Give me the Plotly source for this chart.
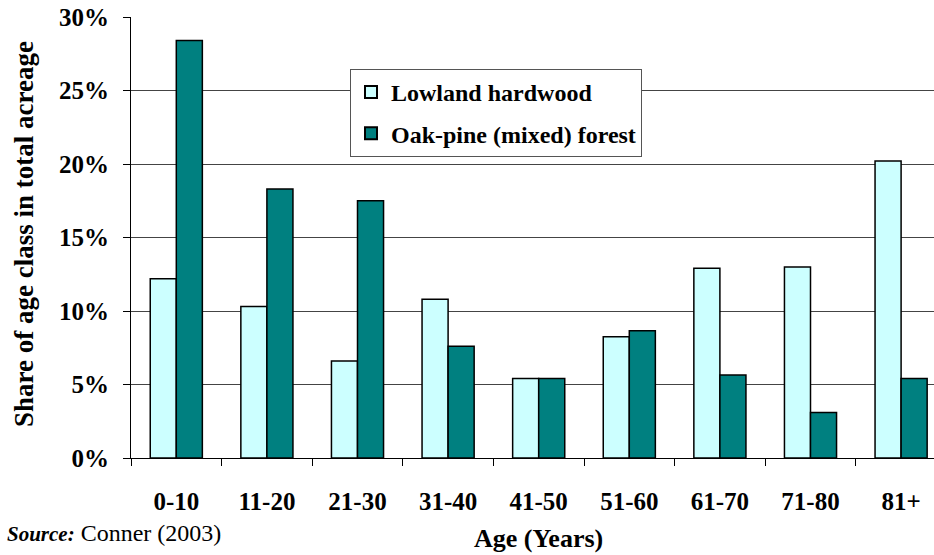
import plotly.graph_objects as go

# Age classes and share of total acreage (%) by forest type
age_classes = ["0-10", "11-20", "21-30", "31-40", "41-50", "51-60", "61-70", "71-80", "81+"]
lowland_hardwood = [12.2, 10.3, 6.6, 10.8, 5.4, 8.25, 12.9, 13.0, 20.2]
oak_pine_mixed = [28.4, 18.3, 17.5, 7.6, 5.4, 8.65, 5.65, 3.1, 5.4]
y_ticks = [0, 5, 10, 15, 20, 25, 30]
y_tick_labels = ["0%", "5%", "10%", "15%", "20%", "25%", "30%"]

FONT = "'Times New Roman', 'Liberation Serif', 'DejaVu Serif', serif"
W, H = 934, 555
M_L, M_R, M_T, M_B = 131, 0, 17, 97

fig = go.Figure()
fig.add_trace(go.Bar(
    x=age_classes, y=lowland_hardwood, name="Lowland hardwood",
    marker=dict(color="#CCFFFF", line=dict(color="black", width=1.5)),
    legendgroup="a",
))
fig.add_trace(go.Bar(
    x=age_classes, y=oak_pine_mixed, name="Oak-pine (mixed) forest",
    marker=dict(color="#008080", line=dict(color="black", width=1.5)),
    legendgroup="b",
))

plot_w = W - M_L - M_R
plot_h = H - M_T - M_B
cat_px = 90.6  # pixel width of one age class

fig.update_layout(
    width=W, height=H,
    margin=dict(l=M_L, r=M_R, t=M_T, b=M_B, pad=0),
    paper_bgcolor="white", plot_bgcolor="white",
    barmode="group", bargap=0.425, bargroupgap=0,
    font=dict(family=FONT, color="black"),
    showlegend=True,
    legend=dict(
        x=(350 - M_L) / plot_w, y=(H - M_B - 69) / plot_h,
        xanchor="left", yanchor="top",
        bgcolor="white", bordercolor="#555", borderwidth=1,
        font=dict(family=FONT, size=24, color="black", weight="bold"),
        traceorder="grouped", tracegroupgap=7,
        itemsizing="constant", itemwidth=30,
    ),
    xaxis=dict(
        type="category",
        range=[-0.5, -0.5 + plot_w / cat_px],
        showline=True, linecolor="black", linewidth=1,
        ticks="outside", ticklen=7, tickcolor="black", tickwidth=1,
        tickson="boundaries",
        tickfont=dict(family=FONT, size=25, color="black", weight="bold"),
        ticklabelstandoff=21,
        showgrid=False, zeroline=False,
    ),
    yaxis=dict(
        range=[0, 30],
        tickvals=y_ticks, ticktext=y_tick_labels,
        showline=True, linecolor="black", linewidth=1,
        ticks="outside", ticklen=7, tickcolor="black", tickwidth=1,
        tickfont=dict(family=FONT, size=25, color="black", weight="bold"),
        ticklabelstandoff=9,
        showgrid=True, gridcolor="#444", gridwidth=1,
        zeroline=False,
    ),
    annotations=[
        dict(
            text="<b>Share of age class in total acreage</b>",
            xref="paper", yref="paper", x=0, y=(H - M_B - 234) / plot_h,
            xshift=24 - M_L, xanchor="center", yanchor="middle",
            textangle=-90, showarrow=False,
            font=dict(family=FONT, size=27, color="black"),
        ),
        dict(
            text="<b>Age (Years)</b>",
            xref="paper", yref="paper", x=(538 - M_L) / plot_w, y=0,
            yshift=-(538 - (H - M_B)), xanchor="center", yanchor="middle",
            showarrow=False,
            font=dict(family=FONT, size=26, color="black"),
        ),
        dict(
            text="<b><i><span style='font-size:21px'>Source:</span></i></b> Conner (2003)",
            xref="paper", yref="paper", x=0, y=0,
            xshift=5 - M_L, yshift=-(533 - (H - M_B)),
            xanchor="left", yanchor="middle",
            showarrow=False,
            font=dict(family=FONT, size=24, color="black"),
        ),
    ],
)

fig.write_html("out.html")
